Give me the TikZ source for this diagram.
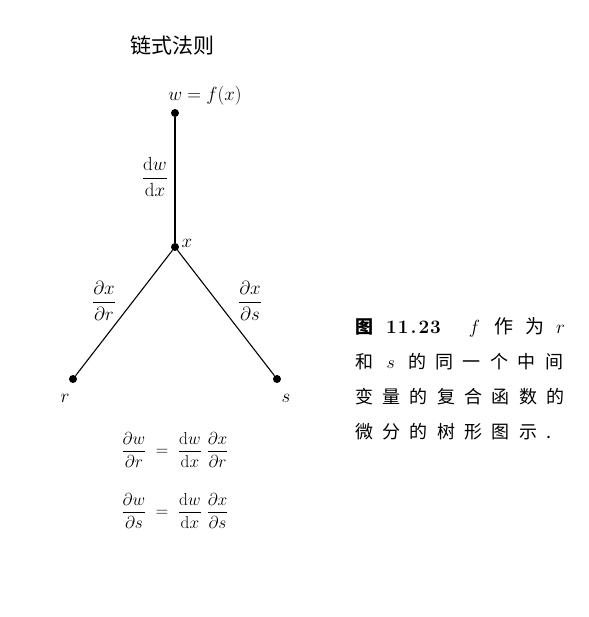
\RequirePackage{fix-cm}
\documentclass[tikz,border=0pt]{standalone}
\usepackage{amsmath}
\usepackage{fontspec}
\usepackage{tikz}
\usetikzlibrary{positioning}
\newfontfamily\heiti{Noto Sans CJK SC}
\newfontfamily\songti{Noto Sans CJK SC}[LetterSpace=52]

\begin{document}
\begin{tikzpicture}[x=1pt,y=-1pt,
                    dot/.style={circle,fill,inner sep=0pt,minimum size=8pt},
                    lbl/.style={font=\fontsize{19}{22}\selectfont},
                    formula/.style={font=\fontsize{17.28}{20}\selectfont},
                    capline/.style={anchor=west,inner sep=0pt,
                                    font=\songti\fontsize{18}{21}\selectfont}]
 \useasboundingbox (0,0) rectangle (588,617);
 \node[font=\heiti\fontsize{21}{24}\selectfont] (title) at (172,46) {链式法则};
 % the tree
 \node[dot] (w) at (175,113) {};
 \node[dot] (x) at (175,247) {};
 \node[dot] (r) at (73,379) {};
 \node[dot] (s) at (277,379) {};
 \draw[line width=1.6pt] (w) -- (x);
 \draw[line width=1.1pt] (x) -- (r);
 \draw[line width=1.1pt] (x) -- (s);
 \node[lbl] (wlab) at (205,96) {$w=f(x)$};
 \node[lbl] (xlab) at (187,243) {$x$};
 \node[lbl] (rlab) at (65,398) {$r$};
 \node[lbl] (slab) at (286,398) {$s$};
 \node[lbl] (dwdx) at (155,177) {$\dfrac{\mathrm{d}w}{\mathrm{d}x}$};
 \node[lbl] (dxdr) at (104,301) {$\dfrac{\partial x}{\partial r}$};
 \node[lbl] (dxds) at (250,301) {$\dfrac{\partial x}{\partial s}$};
 % the two formulas
 \node[formula] (eqr) at (175,450)
   {$\dfrac{\partial w}{\partial r}\;=\;\dfrac{\mathrm{d}w}{\mathrm{d}x}\;\dfrac{\partial x}{\partial r}$};
 \node[formula] (eqs) at (175,511)
   {$\dfrac{\partial w}{\partial s}\;=\;\dfrac{\mathrm{d}w}{\mathrm{d}x}\;\dfrac{\partial x}{\partial s}$};
 % caption
 \node[capline] (cap1) at (355,327)
   {\heiti\fontsize{18}{21}\selectfont\bfseries 图\hspace{13pt}\rmfamily\fontsize{19}{22}\selectfont 1\kern1pt1\kern2pt.\kern2pt2\kern1pt3\hspace{28pt}\mdseries$f$\hspace{14pt}\heiti 作\hspace{12pt}为\hspace{12pt}$r$};
 \node[capline] (cap2) at (355,362) {和 $s$ 的同一个中间};
 \node[capline] (cap3) at (355,397) {变量的复合函数的};
 \node[capline] (cap4) at (355,432) {微分的树形图示.};
\end{tikzpicture}
\end{document}
